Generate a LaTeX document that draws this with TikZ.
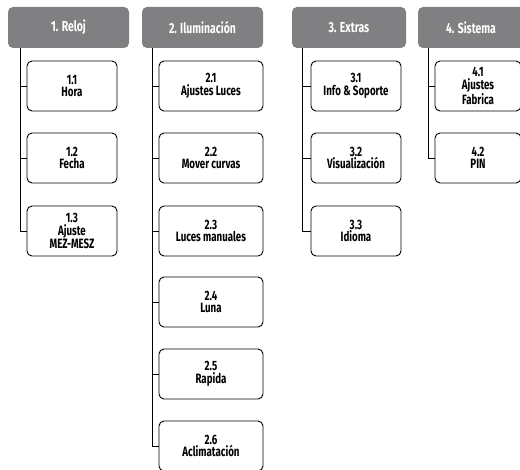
\documentclass[tikz,border=0pt]{standalone}
\usepackage{fontspec}
\setmainfont{Fira Sans}[FakeStretch=0.72]
\usetikzlibrary{positioning}

\definecolor{headgray}{RGB}{128,128,130}

\tikzset{
  menuhead/.style={fill=headgray, text=white, rounded corners=5pt,
    minimum height=41pt, inner sep=0pt, font=\bfseries\fontsize{14.5}{12}\selectfont},
  menuitem/.style={draw=black, line width=0.9pt, rounded corners=5pt, fill=white,
    minimum height=50pt, inner sep=0pt, align=center,
    font=\bfseries\fontsize{13.5}{12.5}\selectfont},
  branch/.style={draw=black, line width=0.9pt}
}

\begin{document}
\begin{tikzpicture}[x=1pt,y=-1pt]
    \useasboundingbox (0,0) rectangle (520,470);

    % Headers
    \node[menuhead, minimum width=121pt] (h1) at (68.5,27.5) {1. Reloj};
    \node[menuhead, minimum width=121pt] (h2) at (202.5,27.5) {2. Iluminación};
    \node[menuhead, minimum width=114pt] (h3) at (349,27.5) {3. Extras};
    \node[menuhead, minimum width=106pt] (h4) at (471,27.5) {4. Sistema};

    % 1. Reloj
    \node[menuitem, minimum width=90pt] (r1) at (72,86) {1.1\\Hora};
    \node[menuitem, minimum width=90pt] (r2) at (72,158) {1.2\\Fecha};
    \node[menuitem, minimum width=90pt] (r3) at (72,231) {1.3\\Ajuste\\MEZ-MESZ};

    % 2. Iluminacion
    \node[menuitem, minimum width=104pt] (l1) at (211,86) {2.1\\Ajustes Luces};
    \node[menuitem, minimum width=104pt] (l2) at (211,158) {2.2\\Mover curvas};
    \node[menuitem, minimum width=104pt] (l3) at (211,231) {2.3\\Luces manuales};
    \node[menuitem, minimum width=104pt] (l4) at (211,302) {2.4\\Luna};
    \node[menuitem, minimum width=104pt] (l5) at (211,374) {2.5\\Rapida};
    \node[menuitem, minimum width=104pt] (l6) at (211,446) {2.6\\Aclimatación};

    % 3. Extras
    \node[menuitem, minimum width=90pt] (e1) at (356,86) {3.1\\Info \& Soporte};
    \node[menuitem, minimum width=90pt] (e2) at (356,158) {3.2\\Visualización};
    \node[menuitem, minimum width=90pt] (e3) at (356,231) {3.3\\Idioma};

    % 4. Sistema
    \node[menuitem, minimum width=86pt] (s1) at (478,86) {4.1\\Ajustes\\Fabrica};
    \node[menuitem, minimum width=86pt] (s2) at (478,158) {4.2\\PIN};

    % Branches
    \coordinate (b1) at ([xshift=13pt]h1.south west);
    \coordinate (b2) at ([xshift=11pt]h2.south west);
    \coordinate (b3) at ([xshift=11pt]h3.south west);
    \coordinate (b4) at ([xshift=11pt]h4.south west);

    \foreach \c in {r1,r2,r3} \draw[branch] (b1) |- (\c.west);
    \foreach \c in {l1,l2,l3,l4,l5,l6} \draw[branch] (b2) |- (\c.west);
    \foreach \c in {e1,e2,e3} \draw[branch] (b3) |- (\c.west);
    \foreach \c in {s1,s2} \draw[branch] (b4) |- (\c.west);

\end{tikzpicture}
\end{document}
